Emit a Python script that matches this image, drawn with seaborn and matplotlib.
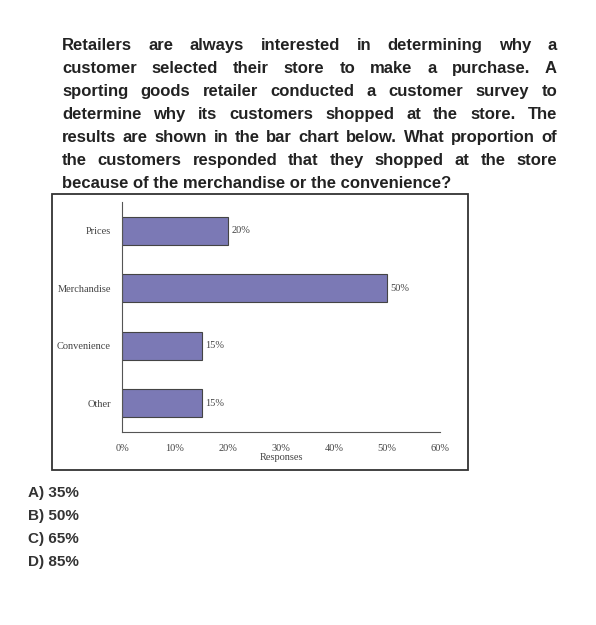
import pandas as pd
import seaborn as sns
import matplotlib.pyplot as plt
from matplotlib.patches import Rectangle

# data
reasons = ['Prices', 'Merchandise', 'Convenience', 'Other']
share = [20, 50, 15, 15]
x_ticks = [0, 10, 20, 30, 40, 50, 60]

question_lines = [
    "Retailers are always interested in determining why a",
    "customer selected their store to make a purchase. A",
    "sporting goods retailer conducted a customer survey to",
    "determine why its customers shopped at the store. The",
    "results are shown in the bar chart below. What proportion of",
    "the customers responded that they shopped at the store",
    "because of the merchandise or the convenience?",
]
answers = ['A) 35%', 'B) 50%', 'C) 65%', 'D) 85%']

df = pd.DataFrame({'reason': reasons, 'share': share})

sns.set_style('white')
plt.rcParams['font.family'] = ['Liberation Sans', 'DejaVu Sans']

W, H = 596, 625
fig = plt.figure(figsize=(W / 100, H / 100), dpi=100)
fig.patch.set_facecolor('white')

# question text, justified like in the book (words sit on a common baseline)
renderer = fig.canvas.get_renderer()
x_left, x_right = 62 / W, 557 / W
for i, line in enumerate(question_lines):
    y = 1 - (50 + i * 23) / H
    words = line.split()
    if i == len(question_lines) - 1:
        fig.text(x_left, y, line, fontsize=12, fontweight='bold', color='#222222', va='baseline')
        continue
    texts = [fig.text(0, y, w, fontsize=12, fontweight='bold', color='#222222', va='baseline') for w in words]
    widths = [t.get_window_extent(renderer).width / W for t in texts]
    gap = (x_right - x_left - sum(widths)) / (len(words) - 1)
    x = x_left
    for t, w in zip(texts, widths):
        t.set_x(x)
        x += w + gap

# box around the chart
fig.patches.append(Rectangle((52 / W, 1 - 470 / H), (468 - 52) / W, (470 - 194) / H,
                             transform=fig.transFigure, fill=False, edgecolor='#333333', lw=1.3))

# the bar chart
ax = fig.add_axes([122 / W, 1 - 432 / H, (440 - 122) / W, (432 - 202) / H])
sns.barplot(data=df, x='share', y='reason', orient='h', color='#7b79b5',
            edgecolor='#444444', linewidth=0.8, width=0.48, saturation=1, ax=ax)
ax.set_xlim(0, 60)
ax.set_ylim(3.5, -0.5)
sns.despine(ax=ax)
for s in ['left', 'bottom']:
    ax.spines[s].set_color('#555555')
    ax.spines[s].set_linewidth(0.8)

serif = ['Liberation Serif', 'DejaVu Serif']
ax.set_xticks(x_ticks)
ax.set_xticklabels([f'{v}%' for v in x_ticks], fontsize=7.5, family=serif, color='#444444')
ax.set_yticks(range(len(reasons)))
ax.set_yticklabels(reasons, fontsize=7.5, family=serif, color='#444444')
ax.set_yticks([-0.5, 0.5, 1.5, 2.5, 3.5], minor=True)
ax.tick_params(axis='y', which='major', length=0, pad=8)
ax.tick_params(axis='y', which='minor', length=5, direction='inout', color='#555555')
ax.tick_params(axis='x', length=5, direction='inout', color='#555555', pad=6)
ax.set_ylabel('')
ax.set_xlabel('Responses', fontsize=7.5, family=serif, color='#444444', labelpad=0)

for i, v in enumerate(share):
    ax.text(v + 0.6, i, f'{v}%', fontsize=7.5, family=serif, color='#444444', va='center')

# answer options
for i, a in enumerate(answers):
    fig.text(28 / W, 1 - (493 + i * 23) / H, a, fontsize=11, fontweight='bold',
             color='#333333', va='center')

fig.savefig('out.png', dpi=100, facecolor='white')
